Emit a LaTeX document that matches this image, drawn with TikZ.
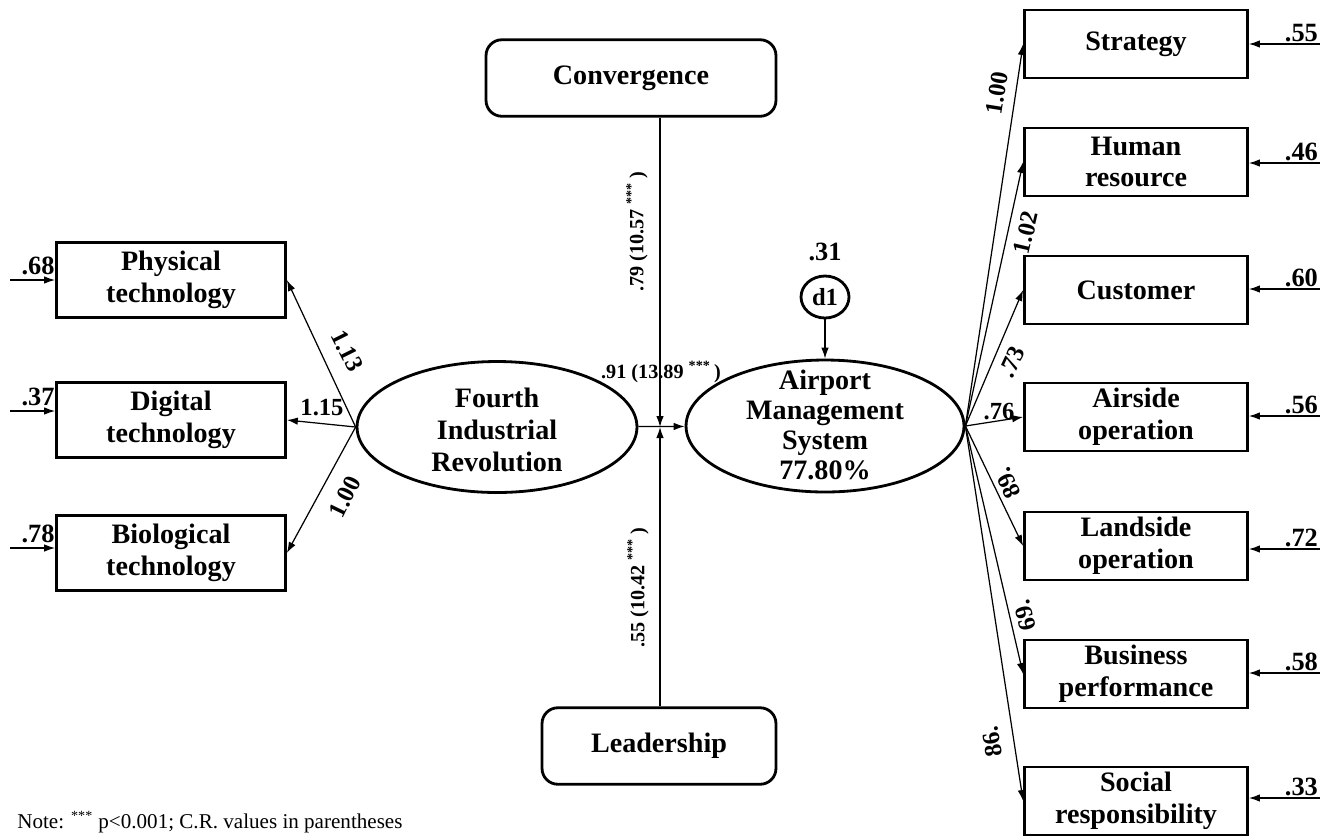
\documentclass[tikz,border=0pt]{standalone}
\usepackage{fontspec}
\setmainfont{Liberation Serif}
\usetikzlibrary{positioning}
\usetikzlibrary{arrows.meta}
\usetikzlibrary{shapes}

\begin{document}
\begin{tikzpicture}[
    x=0.02cm, y=-0.02cm,    % one unit = one pixel of the figure, y down
    ]
% -------------------------------------------------
\tikzset{
  base/.style={draw, line width=1.6pt, align=center, inner sep=0pt, font=\fontsize{16}{18}\selectfont\bfseries},
  obs/.style={base, rectangle, minimum width=4.58cm, minimum height=1.5cm},
  obsr/.style={base, rectangle, minimum width=4.46cm, minimum height=1.36cm},
  mod/.style={base, rectangle, rounded corners=9pt, minimum height=1.53cm},
  lat/.style={base, ellipse},
  txt/.style={align=center, inner sep=0pt, font=\fontsize{16}{18}\selectfont\bfseries},
  line/.style={draw, line width=0.7pt, -{Latex[length=2.2mm,width=1.5mm]}},
  est/.style={inner sep=1pt, font=\fontsize{14}{16}\selectfont\bfseries},
  err/.style={inner sep=1pt, font=\fontsize{15}{17}\selectfont\bfseries},
  crv/.style={inner sep=1pt, font=\fontsize{11.5}{13}\selectfont\bfseries}
}
\useasboundingbox (0,0) rectangle (1337,836);

% left indicators
\node [obs] (phys) at (171,280) {Physical\\technology};
\node [obs] (digi) at (171,420) {Digital\\technology};
\node [obs] (biol) at (171,553) {Biological\\technology};

% latent variables
\node [lat, minimum width=5.6cm, minimum height=2.62cm] (fir) at (497,427) {};
\node [txt] (firtxt) at (497,430) {Fourth\\Industrial\\Revolution};
\node [lat, minimum width=5.56cm, minimum height=2.64cm] (ams) at (825,426) {};
\node [txt, font=\fontsize{16}{17}\selectfont\bfseries] (amstxt) at (825,425) {Airport\\Management\\System\\77.80\%};
\node [lat, minimum width=0.96cm, minimum height=0.84cm, font=\fontsize{14}{16}\selectfont\bfseries] (d1) at (825,297) {d1};
\node [err] (d1var) at (825,252) {.31};

% moderators
\node [mod, minimum width=5.8cm] (conv) at (631,78) {Convergence};
\node [mod, minimum width=4.68cm] (lead) at (659,746) {Leadership};
\coordinate (meet) at (660,427);

% right indicators
\node [obsr] (strat) at (1136,44) {Strategy};
\node [obsr] (human) at (1136,162) {Human\\resource};
\node [obsr] (cust) at (1136,290) {Customer};
\node [obsr] (airs) at (1136,417) {Airside\\operation};
\node [obsr] (lands) at (1136,546) {Landside\\operation};
\node [obsr] (busi) at (1136,674) {Business\\performance};
\node [obsr] (soci) at (1136,801) {Social\\responsibility};

% error terms
\coordinate (ephys) at (10,280);
\coordinate (edigi) at (10,411);
\coordinate (ebiol) at (10,548);
\coordinate (estrat) at (1320,44);
\coordinate (ehuman) at (1320,163);
\coordinate (ecust) at (1320,289);
\coordinate (eairs) at (1320,416);
\coordinate (elands) at (1320,549);
\coordinate (ebusi) at (1320,673);
\coordinate (esoci) at (1320,798);

\path [line] (ephys) -- (ephys -| phys.west);
\path [line] (edigi) -- (edigi -| digi.west);
\path [line] (ebiol) -- (ebiol -| biol.west);
\path [line] (estrat) -- (estrat -| strat.east);
\path [line] (ehuman) -- (ehuman -| human.east);
\path [line] (ecust) -- (ecust -| cust.east);
\path [line] (eairs) -- (eairs -| airs.east);
\path [line] (elands) -- (elands -| lands.east);
\path [line] (ebusi) -- (ebusi -| busi.east);
\path [line] (esoci) -- (esoci -| soci.east);

\node [err, anchor=south] (vphys) at (38,277) {.68};
\node [err, anchor=south] (vdigi) at (38,408) {.37};
\node [err, anchor=south] (vbiol) at (38,545) {.78};
\node [err, anchor=south east] (vstrat) at (estrat) {.55};
\node [err, anchor=south east] (vhuman) at (ehuman) {.46};
\node [err, anchor=south east] (vcust) at (ecust) {.60};
\node [err, anchor=south east] (vairs) at (eairs) {.56};
\node [err, anchor=south east] (vlands) at (elands) {.72};
\node [err, anchor=south east] (vbusi) at (ebusi) {.58};
\node [err, anchor=south east] (vsoci) at (esoci) {.33};

% loadings
\path [line] (fir.west) -- (phys.east);
\path [line] (fir.west) -- (digi.east);
\path [line] (fir.west) -- (biol.east);
\path [line] (ams.east) -- (strat.west);
\path [line] (ams.east) -- (human.west);
\path [line] (ams.east) -- (cust.west);
\path [line] (ams.east) -- (airs.west);
\path [line] (ams.east) -- (lands.west);
\path [line] (ams.east) -- (busi.west);
\path [line] (ams.east) -- (soci.west);

% structural paths
\path [line] (fir) -- (ams);
\path [line] (conv.south -| meet) -- (meet);
\path [line] (lead.north -| meet) -- (meet);
\path [line] (d1) -- (ams);

% estimates
\node [est, rotate=-63.4] (l113) at (347,351) {1.13};
\node [est] (l115) at (322,408) {1.15};
\node [est, rotate=64] (l100a) at (345,497) {1.00};
\node [est, rotate=81] (l100b) at (997,93) {1.00};
\node [est, rotate=77] (l102) at (1026,233) {1.02};
\node [est, rotate=65] (l73) at (1012,362) {.73};
\node [est] (l76) at (999,412) {.76};
\node [est, rotate=116] (l89) at (1008,483) {89.};
\node [est, rotate=104] (l69) at (1025,615) {69.};
\node [est, rotate=99] (l98) at (992,742) {86.};
\node [crv] (lfir) at (661,372) {.91 (13.89 \textsuperscript{***}\,)};
\node [crv, rotate=90] (lconv) at (637,232) {.79 (10.57 \textsuperscript{***}\,)};
\node [crv, rotate=90] (llead) at (638,588) {.55 (10.42 \textsuperscript{***}\,)};

\node [anchor=base west, inner sep=0pt, font=\fontsize{12}{14}\selectfont] (note) at (17,828) {Note: \textsuperscript{***} p<0.001; C.R. values in parentheses};
\end{tikzpicture}
\end{document}
